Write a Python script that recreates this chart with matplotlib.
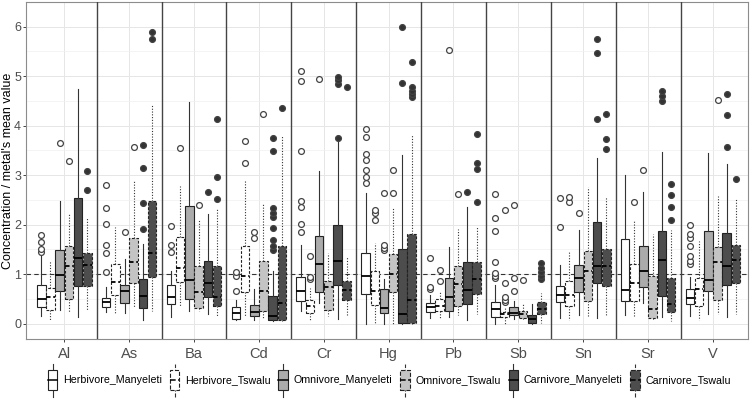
import matplotlib
matplotlib.use("Agg")
import matplotlib.pyplot as plt
from matplotlib.patches import Patch, Rectangle
from matplotlib.lines import Line2D
from matplotlib.legend_handler import HandlerBase

plt.rcParams['font.family'] = ['Liberation Sans', 'DejaVu Sans']

metals = ['Al', 'As', 'Ba', 'Cd', 'Cr', 'Hg', 'Pb', 'Sb', 'Sn', 'Sr', 'V']
groups = ['Herbivore_Manyeleti', 'Herbivore_Tswalu', 'Omnivore_Manyeleti',
          'Omnivore_Tswalu', 'Carnivore_Manyeleti', 'Carnivore_Tswalu']

# per metal, one value per group (order as in groups)
whis_lo = [
    [0.16, 0.07, 0.27, 0.24, 0.14, 0.27],
    [0.24, 0.22, 0.21, 0.34, 0.07, 0.25],
    [0.14, 0.35, 0.25, 0.25, 0.19, 0.16],
    [0.08, 0.14, 0.08, 0.11, 0.06, 0.06],
    [0.25, 0.06, 0.42, 0.15, 0.09, 0.15],
    [0.00, 0.00, 0.00, 0.00, 0.00, 0.00],
    [0.12, 0.10, 0.13, 0.18, 0.07, 0.20],
    [0.00, 0.00, 0.10, 0.07, 0.00, 0.02],
    [0.12, 0.08, 0.18, 0.15, 0.11, 0.18],
    [0.17, 0.13, 0.41, 0.08, 0.13, 0.06],
    [0.16, 0.07, 0.20, 0.20, 0.13, 0.19],
]
q1 = [
    [0.33, 0.27, 0.66, 0.49, 0.76, 0.77],
    [0.34, 0.57, 0.42, 0.82, 0.32, 0.94],
    [0.39, 0.84, 0.50, 0.32, 0.54, 0.35],
    [0.10, 0.63, 0.16, 0.25, 0.07, 0.07],
    [0.45, 0.21, 0.63, 0.27, 0.79, 0.47],
    [0.60, 0.37, 0.21, 0.63, 0.01, 0.01],
    [0.24, 0.25, 0.25, 0.35, 0.40, 0.60],
    [0.14, 0.14, 0.18, 0.12, 0.01, 0.19],
    [0.43, 0.35, 0.63, 0.45, 0.83, 0.76],
    [0.46, 0.45, 0.75, 0.12, 0.56, 0.24],
    [0.39, 0.35, 0.65, 0.48, 0.78, 0.83],
]
medians = [
    [0.50, 0.54, 0.99, 1.17, 1.33, 1.19],
    [0.44, 0.85, 0.65, 1.25, 0.56, 1.42],
    [0.54, 1.13, 0.88, 0.63, 0.82, 0.54],
    [0.21, 0.96, 0.24, 0.65, 0.16, 0.41],
    [0.67, 0.35, 1.20, 0.75, 1.26, 0.68],
    [0.97, 0.65, 0.32, 1.01, 0.19, 0.48],
    [0.34, 0.35, 0.54, 0.81, 0.68, 0.90],
    [0.29, 0.19, 0.22, 0.19, 0.09, 0.29],
    [0.58, 0.58, 0.93, 1.06, 1.17, 1.17],
    [0.68, 0.83, 1.07, 0.30, 1.28, 0.40],
    [0.52, 0.71, 0.89, 1.24, 1.17, 1.28],
]
q3 = [
    [0.78, 0.73, 1.48, 1.56, 2.54, 1.42],
    [0.52, 1.20, 0.79, 1.73, 0.91, 2.48],
    [0.79, 1.76, 2.37, 1.16, 1.27, 1.17],
    [0.33, 1.56, 0.37, 1.27, 0.55, 1.56],
    [0.95, 0.47, 1.78, 0.87, 1.99, 0.86],
    [1.43, 1.07, 0.70, 1.41, 1.50, 1.81],
    [0.42, 0.50, 0.93, 1.17, 1.25, 1.25],
    [0.43, 0.24, 0.33, 0.25, 0.18, 0.44],
    [0.76, 0.86, 1.19, 1.46, 2.05, 1.51],
    [1.71, 1.20, 1.56, 0.97, 1.88, 0.92],
    [0.71, 0.93, 1.87, 1.54, 1.84, 1.59],
]
whis_hi = [
    [1.38, 1.27, 2.48, 2.24, 4.74, 2.16],
    [0.75, 1.96, 1.31, 2.90, 1.61, 4.44],
    [1.07, 2.79, 4.47, 2.12, 2.22, 2.33],
    [0.48, 2.90, 0.71, 2.43, 1.07, 3.80],
    [1.58, 0.73, 3.08, 1.43, 3.67, 1.37],
    [2.64, 1.63, 0.90, 2.33, 3.41, 3.84],
    [0.58, 0.66, 1.55, 1.92, 2.35, 1.97],
    [0.78, 0.33, 0.45, 0.42, 0.39, 0.61],
    [1.19, 1.45, 1.89, 2.77, 3.34, 2.55],
    [3.00, 2.07, 2.67, 1.82, 3.46, 1.89],
    [0.95, 1.68, 3.44, 2.57, 3.23, 2.51],
]
outliers = [
    [[1.45, 1.5, 1.65, 1.8], [], [3.65], [3.28], [], [2.71, 3.08]],
    [[1.04, 1.43, 1.58, 2.01, 2.33, 2.80], [], [1.86], [3.56], [1.91, 2.44, 3.14, 3.61], [5.75, 5.90]],
    [[1.44, 1.58, 1.97], [3.55], [], [2.40], [2.66], [2.51, 2.97, 4.14]],
    [[0.67, 0.96, 1.04], [3.24, 3.70], [1.73, 1.86], [4.23],
     [1.48, 1.56, 1.70, 1.94, 2.15, 2.23, 2.33, 3.49, 3.76], [4.35]],
    [[1.86, 2.02, 2.36, 2.48, 3.49, 4.91, 5.10], [0.91, 0.95, 1.37], [4.95], [], [3.76, 4.85, 4.92, 4.98], [4.78]],
    [[2.85, 2.97, 3.11, 3.30, 3.42, 3.77, 3.94], [2.10, 2.24, 2.29], [1.48, 1.53, 1.58, 2.65], [2.64, 3.10],
     [4.87, 5.99], [4.58, 4.65, 4.71, 4.78, 5.29]],
    [[0.70, 0.74, 1.33], [0.87, 1.09], [5.53], [2.63], [2.66], [2.45, 3.13, 3.24, 3.84]],
    [[0.92, 0.97, 1.03, 1.24, 1.88, 2.14, 2.62], [0.43, 0.48, 0.53, 0.83, 2.30], [0.65, 0.92, 2.40], [0.89], [],
     [0.91, 0.96, 1.04, 1.12, 1.22]],
    [[1.95, 2.53], [2.46, 2.55], [2.24], [], [4.14, 5.46, 5.75], [3.52, 3.73, 4.24]],
    [[], [2.46], [3.10], [], [4.50, 4.61, 4.71], [2.10, 2.36, 2.61, 2.82]],
    [[1.20, 1.27, 1.37, 1.56, 1.73, 1.82, 1.99], [], [], [4.52], [3.57, 4.21, 4.65], [2.92]],
]

fills = ['white', 'white', '#ababab', '#c4c4c4', '#4d4d4d', '#4d4d4d']
flier_fills = ['white', 'white', 'white', 'white', '#333333', '#333333']
box_ls = ['-', (0, (2.5, 1.5)), '-', (0, (2.5, 1.5)), '-', (0, (2.5, 1.5))]
whisk_ls = ['-', (0, (1, 1.5)), '-', (0, (1, 1.5)), '-', (0, (1, 1.5))]

fig = plt.figure(figsize=(7.54, 4.01), dpi=100)
ax = fig.add_axes([0.0345, 0.1546, 0.9575, 0.8404])

dodge = 0.142
bw = 0.132
for g in range(len(groups)):
    stats = []
    for m in range(len(metals)):
        stats.append({'whislo': whis_lo[m][g], 'q1': q1[m][g], 'med': medians[m][g],
                      'q3': q3[m][g], 'whishi': whis_hi[m][g], 'fliers': outliers[m][g]})
    pos = [m + (g - 2.5) * dodge for m in range(len(metals))]
    ax.bxp(stats, positions=pos, widths=bw, patch_artist=True, showcaps=False,
           manage_ticks=False,
           boxprops=dict(facecolor=fills[g], edgecolor='#222222', linewidth=0.8, linestyle=box_ls[g]),
           medianprops=dict(color='black', linewidth=1.3, linestyle=box_ls[g]),
           whiskerprops=dict(color='#333333', linewidth=0.8, linestyle=whisk_ls[g]),
           flierprops=dict(marker='o', markersize=4.2, markerfacecolor=flier_fills[g],
                           markeredgecolor='#444444', markeredgewidth=0.9),
           zorder=3)

ax.axhline(1, color='#333333', linestyle=(0, (4, 3)), linewidth=0.8, zorder=2)

for k in range(len(metals) - 1):
    ax.axvline(k + 0.5, color='#444444', linewidth=1.0, zorder=4)

ax.set_xlim(-0.59, 10.54)
ax.set_ylim(-0.31, 6.29)
ax.set_xticks(range(len(metals)))
ax.set_xticklabels(metals)
ax.set_yticks(range(7))
ax.set_yticks([0.5 + i for i in range(7)], minor=True)
ax.grid(True, which='major', color='#e6e6e6', linewidth=0.7, zorder=0)
ax.grid(True, which='minor', axis='y', color='#f0f0f0', linewidth=0.5, zorder=0)
ax.set_axisbelow(True)
ax.tick_params(axis='both', which='major', colors='#444444', labelcolor='#4d4d4d',
               length=2, width=0.7, labelsize=9, pad=1.5)
ax.tick_params(axis='y', which='minor', length=0)
ax.tick_params(axis='x', labelsize=10.5, pad=4)
for s in ax.spines.values():
    s.set_color('#8c8c8c')
    s.set_linewidth(0.8)
ax.set_ylabel("Concentration / metal's mean value", fontsize=9)
ax.yaxis.set_label_coords(-0.0162, 0.5)


class BoxKey(HandlerBase):
    def create_artists(self, legend, orig_handle, xdescent, ydescent, width, height, fontsize, trans):
        cx = -xdescent + width / 2
        y0 = -ydescent
        w = width * 0.9
        ls = orig_handle.get_linestyle()
        wl = Line2D([cx, cx], [y0 - 0.35 * height, y0 + 1.35 * height], color='#333333',
                    linewidth=0.8, linestyle=ls, transform=trans)
        r = Rectangle((cx - w / 2, y0), w, height, facecolor=orig_handle.get_facecolor(),
                      edgecolor='#222222', linewidth=0.8, linestyle=ls, transform=trans)
        md = Line2D([cx - w / 2, cx + w / 2], [y0 + height / 2] * 2, color='black',
                    linewidth=1.1, linestyle=ls, transform=trans)
        return [wl, r, md]


handles = [Patch(facecolor=fills[g], edgecolor='#222222', linestyle='-' if g % 2 == 0 else '--')
           for g in range(len(groups))]
fig.legend(handles, groups, handler_map={Patch: BoxKey()}, loc='center',
           bbox_to_anchor=(0.516, 0.052), ncol=6, frameon=False, fontsize=7.7,
           handlelength=1.0, handleheight=2.4, handletextpad=0.45, columnspacing=0.7)

fig.savefig('out.png', dpi=100)
